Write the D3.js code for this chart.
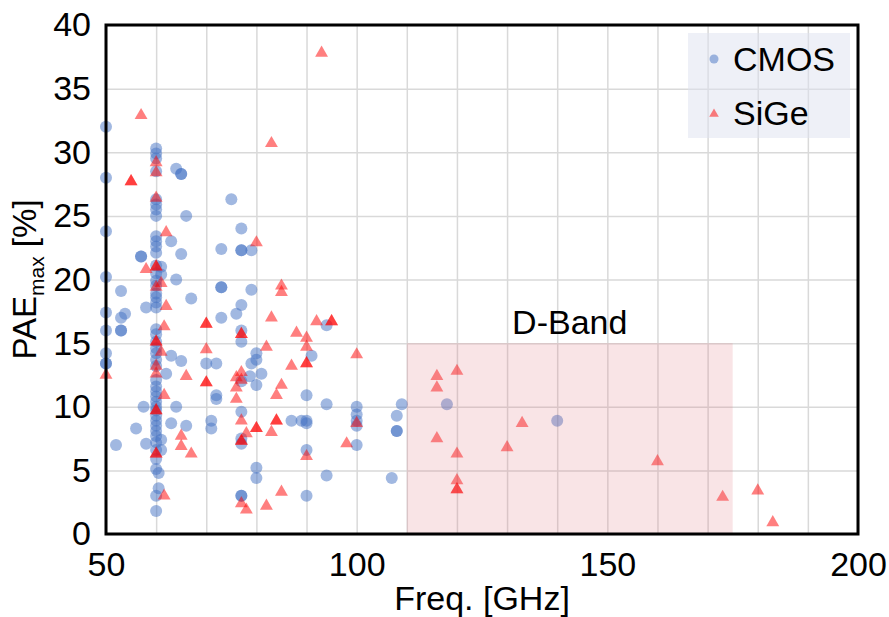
<!DOCTYPE html>
<html>
<head>
<meta charset="utf-8">
<script src="https://cdn.jsdelivr.net/npm/d3@7"></script>
<style>
  body { margin: 0; background: #fff; }
  text { font-family: "Liberation Sans", Arial, sans-serif; }
</style>
</head>
<body>
<svg width="889" height="617"></svg>
<script>
// CMOS points [freq GHz, PAE %]
var cmos = [
  [50, 32.0], [50, 28.0], [50, 23.8], [50, 20.2], [50, 17.4], [50, 16.0], [50, 14.2], [50, 13.4], [50, 13.4],
  [52, 7.0], [53, 19.1], [53.8, 17.3], [53, 17.0], [53, 16.0], [53, 16.0], [56, 8.3],
  [57, 21.8], [57, 21.8], [57.5, 10.0], [58, 17.8], [58, 7.1],
  [60, 30.3], [60, 29.9], [60, 29.5], [60, 28.5], [60, 26.3], [60, 25.9], [60, 25.5], [60, 25.0],
  [60, 23.4], [60, 23.0], [60, 22.6], [60, 22.1], [60, 21.1], [60, 20.5], [60, 19.9], [60, 19.5],
  [60, 18.9], [60, 18.6], [60, 18.2], [60, 17.8], [60, 16.1], [60, 15.7], [60, 15.1], [60, 14.6],
  [60, 14.2], [60, 13.7], [60, 13.2], [60, 12.1], [60, 11.6], [60, 11.2], [60, 10.8], [60, 10.4],
  [60, 10.0], [60, 9.7], [60, 9.3], [60, 8.9], [60, 8.5], [60, 8.1], [60, 7.7], [60, 7.2],
  [60, 6.6], [60, 5.9], [60, 5.1], [60, 3.0], [60, 1.8], [60.5, 4.8], [60.5, 3.6],
  [61, 21.0], [61, 20.4], [61, 7.4], [61, 6.6], [62, 12.6],
  [63, 23.0], [63, 14.0], [63, 8.7], [64, 28.7], [64, 20.0], [64, 10.0],
  [65, 28.3], [65, 28.3], [65, 22.0], [65, 13.6], [66, 25.0], [66, 8.5], [67, 18.5],
  [70, 13.4], [71, 8.9], [71, 8.3], [72, 13.4], [72, 10.9], [72, 10.6],
  [73, 22.4], [73, 19.4], [73, 19.4], [73, 17.0], [75, 26.3], [76, 17.3],
  [77, 24.0], [77, 22.3], [77, 22.3], [77, 18.0], [77, 16.0], [77, 15.1], [77, 12.0], [77, 9.6],
  [77, 7.5], [77, 7.1], [77, 3.0], [77, 3.0],
  [79, 22.3], [79, 19.2], [79, 13.4], [78.7, 12.4], [80, 14.2], [80, 13.7], [80, 11.7], [80, 5.2], [80, 4.4],
  [81, 12.6], [87, 8.9], [89, 8.9], [90, 8.9], [90, 8.7], [90, 10.9], [90, 6.6], [90, 3.0], [91, 14.0],
  [94, 16.4], [94, 10.2], [94, 4.6],
  [100, 10.0], [100, 9.4], [100, 8.9], [100, 8.5], [100, 7.0],
  [107, 4.4], [108, 9.3], [108, 8.1], [108, 8.1], [109, 10.2], [118, 10.2], [140, 8.9]
];

// SiGe points [freq GHz, PAE %]
var sige = [
  [57, 32.9], [93, 37.8], [83, 30.7], [55, 27.7], [55, 27.7], [60, 29.2], [60, 28.4],
  [60, 26.4], [62, 23.7], [80, 22.9], [58, 20.8], [60, 21.0], [60, 21.0], [61, 19.7], [60, 19.4],
  [85, 19.5], [85, 19.0], [62, 17.9], [83, 17.0], [70, 16.5], [70, 16.5], [95, 16.7], [95, 16.7],
  [92, 16.7], [61.6, 16.3], [88, 15.8], [77, 15.7], [77, 15.7], [90, 15.4], [90, 14.7],
  [60, 15.1], [60, 15.1], [82, 14.7], [61, 14.3], [70, 14.5],
  [50, 12.5], [60, 13.2], [60, 12.6], [66, 12.4], [70, 11.9], [70, 11.9], [76, 12.3], [77, 12.7],
  [77, 12.1], [76, 11.5], [76, 10.6], [87, 13.2], [90, 13.4], [90, 13.4], [85, 11.7], [84, 10.9],
  [61.6, 10.9], [60, 9.7], [60, 9.7], [77, 8.9], [84, 8.9], [84, 8.9], [80, 8.3], [80, 8.3],
  [78, 7.9], [83, 8.0], [77, 7.3], [77, 7.3], [65, 7.7], [65, 6.9], [67, 6.3], [60, 6.3], [60, 6.3],
  [90, 6.1], [98, 7.1], [85, 3.3], [61.6, 3.0], [77, 2.4], [78, 1.9], [82, 2.2],
  [100, 14.1], [116, 12.4], [120, 12.8], [116, 11.5], [100, 8.7], [116, 7.5], [133, 8.7],
  [130, 6.8], [120, 6.3], [120, 4.2], [120, 3.5], [120, 3.5],
  [160, 5.7], [173, 2.9], [180, 3.4], [183, 0.9]
];

var xTicks = [50, 100, 150, 200];
var yTicks = [0, 5, 10, 15, 20, 25, 30, 35, 40];
var xGrid = d3.range(50, 201, 10);
var dBand = [110, 175, 0, 15];   // freq from, freq to, PAE from, PAE to
var seriesNames = ["CMOS", "SiGe"];

var svg = d3.select("svg"),
  marginLeft = 106, marginTop = 25,
  width = 752, height = 509;

var xScale = d3.scaleLinear().domain([50, 200]).range([0, width]),
  yScale = d3.scaleLinear().domain([0, 40]).range([height, 0]);

var g = svg.append("g").attr("transform", "translate(" + marginLeft + "," + marginTop + ")");

// grid
g.append("g")
  .attr("transform", "translate(0," + height + ")")
  .call(d3.axisBottom(xScale).tickValues(xGrid).tickSize(-height).tickFormat(""))
  .call(function(s) { s.select(".domain").remove(); })
  .selectAll("line").attr("stroke", "#d9d9d9").attr("stroke-width", 1.5);

g.append("g")
  .call(d3.axisLeft(yScale).tickValues(yTicks).tickSize(-width).tickFormat(""))
  .call(function(s) { s.select(".domain").remove(); })
  .selectAll("line").attr("stroke", "#d9d9d9").attr("stroke-width", 1.5);

// CMOS circles
g.append("g")
  .selectAll("circle")
  .data(cmos)
  .enter()
  .append("circle")
  .attr("cx", function(d) { return xScale(d[0]); })
  .attr("cy", function(d) { return yScale(d[1]); })
  .attr("r", 6)
  .style("fill", "#4472c4")
  .style("fill-opacity", 0.5);

// SiGe triangles
var tri = d3.symbol().type(d3.symbolTriangle).size(72);
g.append("g")
  .selectAll("path")
  .data(sige)
  .enter()
  .append("path")
  .attr("d", tri)
  .attr("transform", function(d) { return "translate(" + xScale(d[0]) + "," + yScale(d[1]) + ")"; })
  .style("fill", "#ff0000")
  .style("fill-opacity", 0.5);

// D-band shade
g.append("rect")
  .attr("x", xScale(dBand[0]))
  .attr("y", yScale(dBand[3]))
  .attr("width", xScale(dBand[1]) - xScale(dBand[0]))
  .attr("height", yScale(dBand[2]) - yScale(dBand[3]))
  .style("fill", "#e07880")
  .style("fill-opacity", 0.2);

g.append("text")
  .attr("x", xScale(142.5))
  .attr("y", yScale(15) - 9)
  .attr("text-anchor", "middle")
  .style("font-size", "34px")
  .text("D-Band");

// frame
g.append("rect")
  .attr("width", width).attr("height", height)
  .attr("fill", "none").attr("stroke", "#000").attr("stroke-width", 3);

// axes labels
var xAxis = g.append("g")
  .attr("transform", "translate(0," + height + ")")
  .call(d3.axisBottom(xScale).tickValues(xTicks).tickSize(0).tickPadding(18));
xAxis.select(".domain").remove();
xAxis.selectAll("text").style("font-size", "34px").style("font-family", "Liberation Sans, Arial").attr("fill", "#000");

var yAxis = g.append("g")
  .call(d3.axisLeft(yScale).tickValues(yTicks).tickSize(0).tickPadding(15));
yAxis.select(".domain").remove();
yAxis.selectAll("text").style("font-size", "34px").style("font-family", "Liberation Sans, Arial").attr("fill", "#000");

// X label
svg.append("text")
  .attr("x", marginLeft + width / 2)
  .attr("y", 610)
  .attr("text-anchor", "middle")
  .style("font-size", "34px")
  .text("Freq. [GHz]");

// Y label
var yl = svg.append("text")
  .attr("text-anchor", "middle")
  .attr("transform", "translate(36," + (marginTop + height / 2) + ")rotate(-90)")
  .style("font-size", "33px");
yl.append("tspan").text("PAE");
yl.append("tspan").attr("dy", 8).style("font-size", "21px").text("max");
yl.append("tspan").attr("dy", -8).text(" [%]");

// legend
var lg = svg.append("g").attr("transform", "translate(688,33)");
lg.append("rect").attr("width", 162).attr("height", 105)
  .style("fill", "#dde2f0").style("fill-opacity", 0.5);
lg.append("circle").attr("cx", 26).attr("cy", 26).attr("r", 4.5)
  .style("fill", "#4472c4").style("fill-opacity", 0.5);
lg.append("path").attr("d", d3.symbol().type(d3.symbolTriangle).size(40))
  .attr("transform", "translate(26,81)")
  .style("fill", "#ff0000").style("fill-opacity", 0.5);
lg.selectAll("text.lab")
  .data(seriesNames)
  .enter()
  .append("text")
  .attr("x", 45)
  .attr("y", function(d, i) { return 38 + i * 54; })
  .style("font-size", "34px")
  .text(function(d) { return d; });
</script>
</body>
</html>
